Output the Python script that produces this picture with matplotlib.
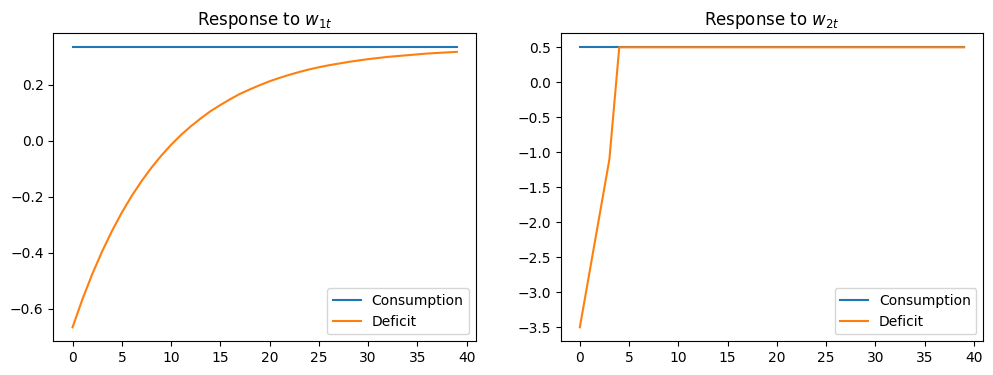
import matplotlib
matplotlib.use("Agg")
import matplotlib.pyplot as plt
import numpy as np

t = list(range(40))
cons1 = [0.3333] * 40
deficit1 = [-0.667, -0.567, -0.477, -0.396, -0.323, -0.257, -0.198, -0.145, -0.097, -0.054,
            -0.015, 0.020, 0.051, 0.079, 0.105, 0.127, 0.148, 0.167, 0.183, 0.198,
            0.212, 0.224, 0.235, 0.245, 0.254, 0.262, 0.269, 0.275, 0.281, 0.286,
            0.291, 0.295, 0.299, 0.302, 0.305, 0.308, 0.311, 0.313, 0.315, 0.317]
cons2 = [0.5] * 40
deficit2 = [-3.5, -2.7, -1.9, -1.1] + [0.5] * 36

titles = [r"Response to $w_{1t}$", r"Response to $w_{2t}$"]

fig, axes = plt.subplots(1, 2, figsize=(12, 4))
for ax, c, d, title in zip(axes, [cons1, cons2], [deficit1, deficit2], titles):
    ax.plot(t, c, label="Consumption")
    ax.plot(t, d, label="Deficit")
    ax.set_title(title)
    ax.legend(loc="lower right")

fig.savefig("out.png", dpi=100, bbox_inches="tight")
